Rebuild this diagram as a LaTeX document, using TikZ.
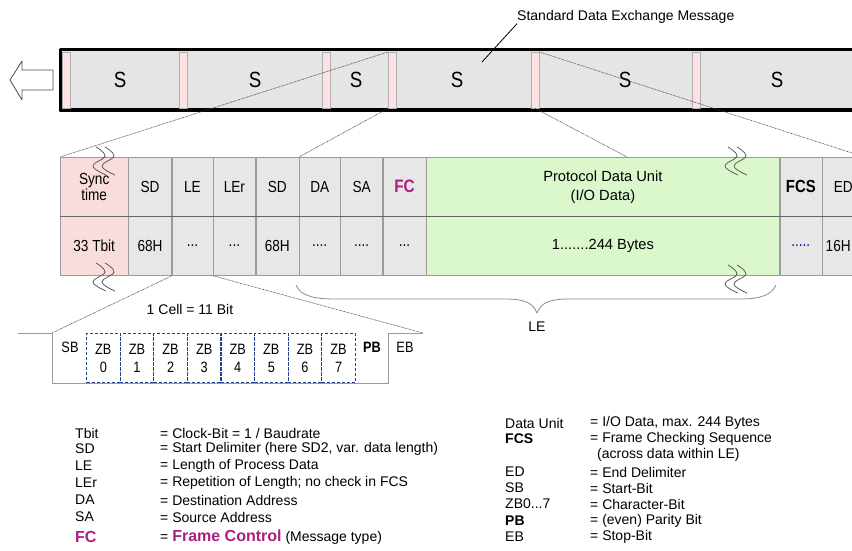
\documentclass[tikz,border=0pt]{standalone}
\usepackage{fontspec}
\setmainfont{Liberation Sans}
\newfontfamily\tallfont{Liberation Sans}[FakeStretch=0.85]
\usetikzlibrary{positioning}

\definecolor{bargray}{RGB}{229,229,229}
\definecolor{cellgray}{RGB}{231,231,231}
\definecolor{syncpink}{RGB}{249,221,221}
\definecolor{seppink}{RGB}{252,226,226}
\definecolor{pdugreen}{RGB}{219,248,204}
\definecolor{fcmag}{RGB}{172,30,132}
\definecolor{zbblue}{RGB}{36,62,142}
\definecolor{linegray}{RGB}{155,155,155}

\begin{document}
\begin{tikzpicture}[x=1pt,y=-1pt,line join=round,
    cell/.style={draw=linegray,fill=cellgray,inner sep=0pt,minimum height=59pt,anchor=north west,font=\tallfont\fontsize{16}{14}\selectfont,align=center},
    sepbar/.style={draw=linegray!80,fill=seppink,inner sep=0pt,minimum width=8pt,minimum height=56pt,anchor=north west},
    bitcell/.style={draw=zbblue,line width=1.1pt,dash pattern=on 3pt off 2pt,inner sep=0pt,minimum width=33.6pt,minimum height=49pt,anchor=north west,font=\tallfont\fontsize{15}{18}\selectfont,align=center},
    zoomline/.style={line width=0.6pt,black!75,dash pattern=on 0.7pt off 0.7pt},
    brk/.style={line width=0.7pt,black!70},
    lgd/.style={anchor=west,inner sep=0pt,font=\fontsize{14}{15}\selectfont}
  ]
\useasboundingbox (0,0) rectangle (852,551);
\clip (0,0) rectangle (852,551);

% message bar
\fill[bargray] (60,50) rectangle (870,110);
\draw[line width=3pt] (870,50) -- (60,50) -- (60,110) -- (870,110);
\foreach \nm/\sx in {s1/62,s2/179,s3/322,s4/388,s5/531,s6/692}
  \node[sepbar] (\nm) at (\sx,52) {};
\foreach \sx [count=\i] in {120,255,356,457,625,777}
  \node[font=\tallfont\fontsize{22}{23}\selectfont] (slbl\i) at (\sx,80) {S};
\draw[black!70,line width=0.8pt] (53,70) -- (22,70) -- (22,61) -- (10,80) -- (22,100) -- (22,90) -- (53,90) -- cycle;

\node[lgd] (msg) at (517,17) {Standard Data Exchange Message};
\coordinate (msgpt) at (482,62);
\draw[line width=0.8pt] (msg.south west) -- (msgpt);

% frame, upper row
\node[cell,fill=syncpink,minimum width=68pt] (syncT) at (60,157) {Sync\\time};
\node[cell,minimum width=43pt,right=0pt of syncT] (sd1T) {SD};
\node[cell,minimum width=41pt,right=0pt of sd1T] (leT) {LE};
\node[cell,minimum width=42pt,right=0pt of leT] (lerT) {LEr};
\node[cell,minimum width=43pt,right=0pt of lerT] (sd2T) {SD};
\node[cell,minimum width=41pt,right=0pt of sd2T] (daT) {DA};
\node[cell,minimum width=42pt,right=0pt of daT] (saT) {SA};
\node[cell,minimum width=43pt,right=0pt of saT,text=fcmag,font=\tallfont\fontsize{18}{18}\selectfont\bfseries] (fcT) {FC};
\node[cell,fill=pdugreen,minimum width=353pt,right=0pt of fcT,font=\fontsize{14.7}{19}\selectfont] (pduT) {Protocol Data Unit\\(I/O Data)};
\node[cell,minimum width=42pt,right=0pt of pduT,font=\tallfont\fontsize{17.5}{18}\selectfont\bfseries] (fcsT) {FCS};
\node[cell,minimum width=42pt,right=0pt of fcsT] (edT) {ED};

% frame, lower row
\node[cell,fill=syncpink,minimum width=68pt,below=0pt of syncT] (syncB) {33 Tbit};
\node[cell,minimum width=43pt,right=0pt of syncB] (sd1B) {68H};
\node[cell,minimum width=41pt,right=0pt of sd1B] (leB) {...};
\node[cell,minimum width=42pt,right=0pt of leB] (lerB) {...};
\node[cell,minimum width=43pt,right=0pt of lerB] (sd2B) {68H};
\node[cell,minimum width=41pt,right=0pt of sd2B] (daB) {....};
\node[cell,minimum width=42pt,right=0pt of daB] (saB) {....};
\node[cell,minimum width=43pt,right=0pt of saB] (fcB) {...};
\node[cell,fill=pdugreen,minimum width=353pt,right=0pt of fcB,font=\fontsize{14.7}{16}\selectfont] (pduB) {1.......244 Bytes};
\node[cell,minimum width=42pt,right=0pt of pduB,text=blue!70!black] (fcsB) {.....};
\node[cell,minimum width=42pt,right=0pt of fcsB] (edB) {16H\hspace{10pt}};
\draw[line width=1.6pt,black!60] (syncT.south west) -- (edT.south east);

% breaks
\foreach \bx/\by in {96/147,728/147,96/263,728/265}
  \foreach \dx in {0,9}
    \draw[brk] plot[smooth,tension=0.7] coordinates {(\bx+\dx,\by) (\bx+\dx+9,\by+9) (\bx+\dx-3,\by+19) (\bx+\dx+10,\by+28)};

% zoom lines
\coordinate (pdutop) at (627,157);
\draw[zoomline] (s4.north west) -- (syncT.north west);
\draw[zoomline] (s4.south west) -- (daT.north west);
\draw[zoomline] (s5.north east) -- (edT.north east);
\draw[zoomline] (s5.south) -- (pdutop);

% LE brace
\draw[black!45,line width=0.8pt] (296,285) .. controls (300,296) and (315,299) .. (335,299) -- (505,299)
  .. controls (525,299) and (533,303) .. (537,313) .. controls (541,303) and (549,299) .. (569,299)
  -- (740,299) .. controls (760,299) and (772,295) .. (776,285);
\node[font=\fontsize{14}{15}\selectfont] (lelbl) at (537,327) {LE};

% one cell
\node[font=\fontsize{14}{15}\selectfont] (celltxt) at (190,309) {1 Cell = 11 Bit};
\coordinate (cellL) at (52,333);
\coordinate (cellR) at (423,333);
\draw[linegray,line width=0.8pt] (18,333) -- (cellL) -- (52,383) -- (388,383) -- (388,333) -- (cellR);
\draw[zoomline] (leB.south west) -- (cellL);
\draw[zoomline] (leB.south east) -- (cellR);
\foreach \i in {0,...,7}
  \node[bitcell] (zb\i) at (86+33.6*\i,333) {ZB\\\i};
\node[font=\tallfont\fontsize{15}{16}\selectfont] (sb) at (70,347) {SB};
\node[font=\tallfont\fontsize{15}{16}\selectfont\bfseries] (pb) at (372,347) {PB};
\node[font=\tallfont\fontsize{15}{16}\selectfont] (eb) at (405,347) {EB};

% legend
\foreach \ky/\vl/\ly [count=\i] in {Tbit/{= Clock-Bit = 1 / Baudrate}/433,
    SD/{= Start Delimiter (here SD2, var. data length)}/449,
    LE/{= Length of Process Data}/466,
    LEr/{= Repetition of Length; no check in FCS}/483,
    DA/{= Destination Address}/500,
    SA/{= Source Address}/517}
  {\node[lgd] (lk\i) at (75,\ly) {\ky};
   \node[lgd] (lv\i) at (160,\ly) {\vl};}
\node[lgd,text=fcmag,font=\fontsize{16}{17}\selectfont\bfseries] (lk7) at (75,537) {FC};
\node[lgd] (lv7) at (160,537) {= \textcolor{fcmag}{\fontsize{16}{17}\selectfont\bfseries Frame Control} (Message type)};

\foreach \ky/\vl/\ly [count=\i] in {Data Unit/{= I/O Data, max. 244 Bytes}/423,
    {\bfseries FCS}/{= Frame Checking Sequence}/439,
    ED/{= End Delimiter}/472,
    SB/{= Start-Bit}/488,
    {\bfseries PB}/{= (even) Parity Bit}/521,
    EB/{= Stop-Bit}/537}
  {\node[lgd] (rk\i) at (505,\ly) {\ky};
   \node[lgd] (rv\i) at (590,\ly) {\vl};}
\node[lgd] (rkz) at (505,504) {ZB0...7};
\node[lgd] (rvz) at (590,504) {= Character-Bit};
\node[lgd] (rvx) at (597,455) {(across data within LE)};
\end{tikzpicture}
\end{document}
